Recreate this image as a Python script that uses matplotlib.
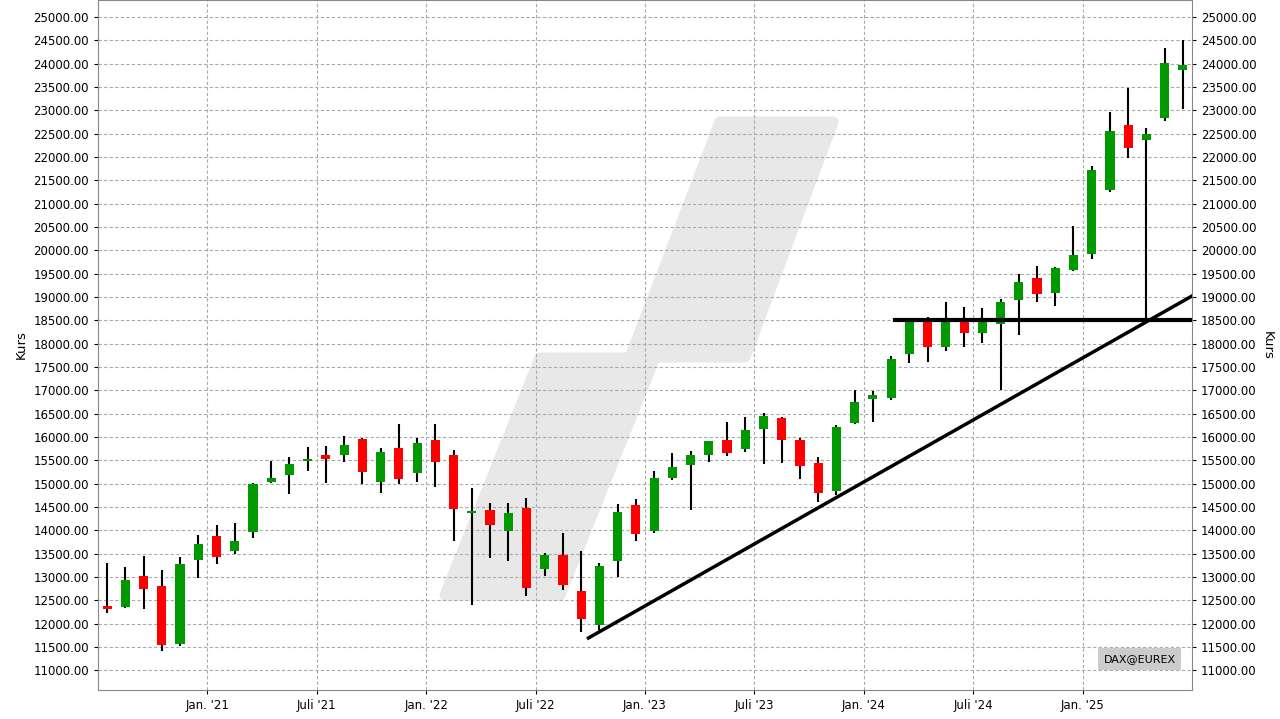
import matplotlib.pyplot as plt
from matplotlib.patches import Polygon

# monthly OHLC, Jul 2020 - Jun 2025
opens = [12380, 12360, 13020, 12806, 11560, 13370,
         13878, 13563, 13970, 15041, 15192, 15492, 15614, 15614, 15957, 15042, 15764, 15235,
         15935, 15614, 14378, 14435, 13993, 14478, 13177, 13471, 12706, 11971, 13342, 14542,
         13992, 15128, 15407, 15621, 15935, 15749, 16178, 16407, 15935, 15442, 14849, 16306,
         16821, 16842, 17785, 18470, 17935, 18470, 18235, 18427, 18929, 19414, 19093, 19586,
         19929, 21300, 22693, 22357, 22829, 23871]
highs = [13290, 13220, 13450, 13150, 13428, 13900,
         14114, 14157, 15014, 15485, 15571, 15785, 15807, 16021, 15978, 15764, 16278, 15978,
         16278, 15721, 14907, 14585, 14585, 14692, 13513, 13942, 13556, 13300, 14564, 14671,
         15271, 15657, 15700, 15914, 16321, 16428, 16514, 16428, 15978, 15571, 16257, 17007,
         16985, 17735, 18500, 18571, 18893, 18785, 18764, 18957, 19500, 19671, 19650, 20529,
         21814, 22957, 23486, 22614, 24343, 24500]
lows = [12234, 12340, 12313, 11420, 11520, 12985,
        13280, 13492, 13842, 15020, 14778, 15277, 15020, 15470, 14999, 14806, 14999, 15042,
        14935, 13777, 12406, 13400, 13348, 12598, 13027, 12727, 11828, 11870, 13000, 13777,
        13950, 15085, 14442, 15470, 15599, 15685, 15428, 15449, 15106, 14607, 14763, 16271,
        16328, 16800, 17592, 17614, 17850, 17935, 18021, 17007, 18180, 18900, 18800, 19550,
        19821, 21243, 21971, 18490, 22771, 23036]
closes = [12320, 12935, 12750, 11542, 13278, 13707,
          13435, 13770, 14992, 15121, 15421, 15528, 15535, 15828, 15256, 15678, 15100, 15871,
          15470, 14463, 14414, 14114, 14371, 12770, 13471, 12834, 12106, 13235, 14393, 13928,
          15121, 15357, 15614, 15914, 15664, 16149, 16450, 15942, 15385, 14806, 16214, 16749,
          16900, 17671, 18490, 17935, 18500, 18235, 18500, 18893, 19329, 19071, 19629, 19907,
          21729, 22564, 22186, 22500, 24007, 23979]

tick_pos = [5.5, 11.5, 17.5, 23.5, 29.5, 35.5, 41.5, 47.5, 53.5]
tick_labels = ["Jan. '21", "Juli '21", "Jan. '22", "Juli '22", "Jan. '23",
               "Juli '23", "Jan. '24", "Juli '24", "Jan. '25"]

# drawn support lines (x in month index, y in points)
trend_x = [26.4, 59.5]
trend_y = [11692, 19021]
level_x = [43.2, 59.5]
level_y = [18500, 18500]

fig = plt.figure(figsize=(12.8, 7.19), dpi=100)
ax = fig.add_axes([98/1280, 1-690/719, 1094/1280, 690/719])

# watermark logo (pixel outline)
pts = [(445, 595), (540, 358), (630, 358), (720, 122), (833, 122), (745, 357), (655, 357), (560, 595)]
ax.add_patch(Polygon([(x/1280, 1-y/719) for x, y in pts], closed=True,
                     transform=fig.transFigure, facecolor='#e8e8e8', edgecolor='#e8e8e8',
                     lw=8, joinstyle='round', zorder=0.5))

for i in range(len(opens)):
    col = '#009900' if closes[i] >= opens[i] else '#ff0000'
    ax.vlines(i, lows[i], highs[i], color='black', lw=1.5, zorder=2)
    lo, hi = min(opens[i], closes[i]), max(opens[i], closes[i])
    ax.bar(i, max(hi - lo, 40), bottom=lo, width=0.5, color=col, zorder=3)

ax.plot(trend_x, trend_y, color='black', lw=2.5, zorder=4)
ax.plot(level_x, level_y, color='black', lw=3, zorder=4)

ax.set_xlim(-0.5, 59.5)
ax.set_ylim(10577, 25364)
ax.set_yticks(range(11000, 25001, 500))
ax.set_yticklabels([f'{v}.00' for v in range(11000, 25001, 500)], fontsize=8.5)
ax.set_xticks(tick_pos)
ax.set_xticklabels(tick_labels, fontsize=8.5)
ax.tick_params(axis='y', which='both', left=True, right=True, labelleft=True, labelright=True, length=3)
ax.tick_params(axis='x', length=3)
ax.grid(True, color='#aaaaaa', linestyle=(0, (3, 2)), lw=0.8)
ax.set_axisbelow(True)
ax.set_ylabel('Kurs', fontsize=9.5)
fig.text(1267/1280, 1-345/719, 'Kurs', rotation=270, ha='center', va='center', fontsize=9.5)
for s in ax.spines.values():
    s.set_color('#888888')

ax.text(0.985, 0.045, 'DAX@EUREX', transform=ax.transAxes, ha='right', va='center', fontsize=8,
        bbox=dict(boxstyle='square,pad=0.5', facecolor='#cccccc', edgecolor='none'))

fig.savefig('out.png', dpi=100)
